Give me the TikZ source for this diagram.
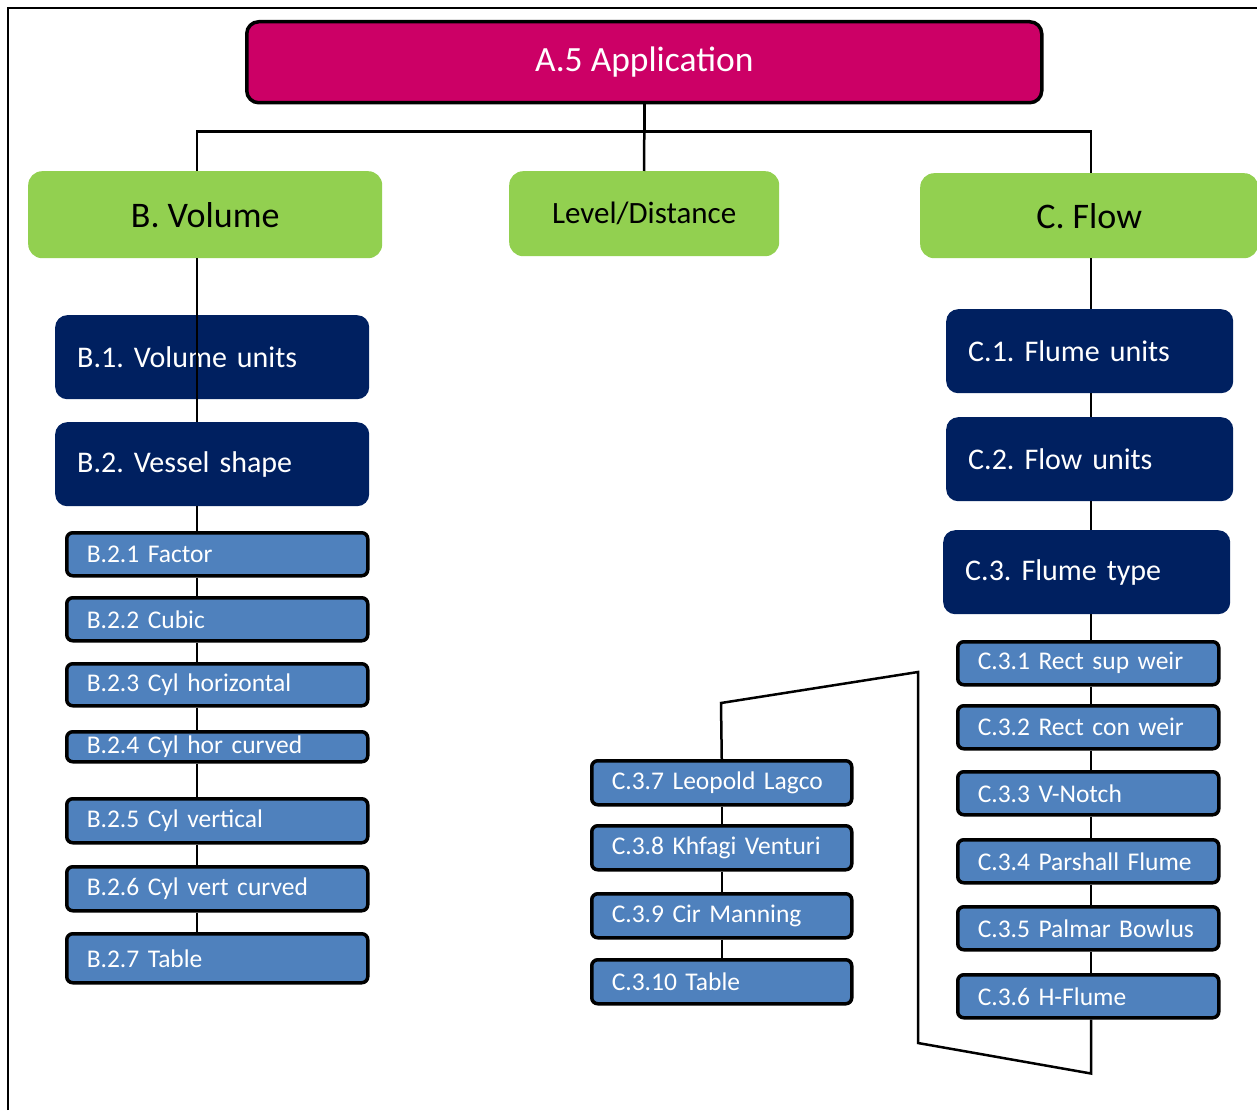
\documentclass[tikz,border=0pt]{standalone}
\usepackage{fontspec}
\setmainfont{Carlito}
\usepackage{xcolor}
\definecolor{appred}{HTML}{CC0066}
\definecolor{catgreen}{HTML}{92D050}
\definecolor{unitnavy}{HTML}{002060}
\definecolor{leafblue}{HTML}{4F81BD}
\frenchspacing

\begin{document}
\begin{tikzpicture}[x=1pt, y=-1pt,
    link/.style={line width=2.5pt},
    appbox/.style={draw=black, line width=3.5pt, fill=appred, rounded corners=12pt, text=white,
      anchor=north west, font=\fontsize{35.5}{40}\selectfont},
    catbox/.style={fill=catgreen, rounded corners=14pt, anchor=north west},
    unitbox/.style={fill=unitnavy, rounded corners=12pt, text=white, anchor=north west,
      minimum height=84pt, text width=#1, align=left, inner xsep=22pt, font=\fontsize{30}{34}\selectfont},
    leafbox/.style={draw=black, line width=3.5pt, fill=leafblue, rounded corners=6pt, text=white,
      anchor=north west, text width=#1, align=left, inner xsep=20pt, inner ysep=0pt,
      font=\fontsize{25.5}{28}\selectfont}]
  \useasboundingbox (0,0) rectangle (1257,1110);
  \draw[line width=2pt] (8,1110) -- (8,8) -- (1257,8);

  % top levels
  \node[appbox, minimum width=795pt, minimum height=81pt] (app) at (245,20) {A.5 Application};
  \node[catbox, minimum width=354pt, minimum height=87pt, font=\fontsize{36}{40}\selectfont] (bvol) at (28,171) {B. Volume};
  \node[catbox, minimum width=270pt, minimum height=85pt, font=\fontsize{31}{35}\selectfont] (lev) at (509,171) {Level/Distance};
  \node[catbox, minimum width=338pt, minimum height=85pt, font=\fontsize{36}{40}\selectfont] (cflow) at (920,173) {C. Flow};

  % volume side
  \node[unitbox=270pt] (b1) at (55,315) {B.1. Volume units};
  \node[unitbox=270pt] (b2) at (55,422) {B.2. Vessel shape};
  \foreach \i/\y/\h/\txt in {1/531/43/Factor, 2/596/43/Cubic, 3/662/42/Cyl horizontal,
      4/730/30/Cyl hor curved, 5/797/44/Cyl vertical, 6/865/44/Cyl vert curved, 7/932/49/Table}
    \node[leafbox=261pt, minimum height=\h pt] (b2\i) at (65,\y) {B.2.\i\ \txt};

  % flow side
  \node[unitbox=243pt] (c1) at (946,309) {C.1. Flume units};
  \node[unitbox=243pt] (c2) at (946,417) {C.2. Flow units};
  \node[unitbox=243pt] (c3) at (943,530) {C.3. Flume type};
  \foreach \i/\y/\txt in {1/640/Rect sup weir, 2/704/Rect con weir, 3/770/V-Notch,
      4/838/Parshall Flume, 5/905/Palmar Bowlus, 6/973/H-Flume}
    \node[leafbox=221pt, minimum height=43pt] (c3\i) at (956,\y) {C.3.\i\ \txt};
  \foreach \i/\y/\txt in {7/759/Leopold Lagco, 8/824/Khfagi Venturi, 9/892/Cir Manning, 10/958/Table}
    \node[leafbox=220pt, minimum height=44pt] (c3\i) at (590,\y) {C.3.\i\ \txt};

  % connectors
  \coordinate (bx) at (197,0);
  \coordinate (cx) at (1091,0);
  \draw[link] (app.south) -- ++(0,27) coordinate (hub);
  \draw[link] (bvol.north -| bx) |- (hub) -| (cflow.north -| cx);
  \draw[link] (hub) -- (lev.north);
  \draw[link] (bvol.south -| bx) -- (b2.north -| bx);
  \draw[link] (b2.south -| bx) -- (b21.north -| bx);
  \foreach \a/\b in {1/2,2/3,3/4,4/5,5/6,6/7}
    \draw[link] (b2\a.south -| bx) -- (b2\b.north -| bx);
  \draw[link] (cflow.south -| cx) -- (c1.north -| cx);
  \draw[link] (c1.south -| cx) -- (c2.north -| cx);
  \draw[link] (c2.south -| cx) -- (c3.north -| cx);
  \draw[link] (c3.south -| cx) -- (c31.north -| cx);
  \foreach \a/\b in {1/2,2/3,3/4,4/5,5/6}
    \draw[link] (c3\a.south -| cx) -- (c3\b.north -| cx);
  \foreach \a/\b in {7/8,8/9,9/10}
    \draw[link] (c3\a.south) -- (c3\b.north);
  \coordinate (k1) at (918,1043);
  \coordinate (k2) at (918,672);
  \coordinate (k3) at (721,703);
  \draw[link] (c36.south -| cx) -- ++(0,54) -- (k1) -- (k2) -- (k3) -- (c37.north);
\end{tikzpicture}
\end{document}
